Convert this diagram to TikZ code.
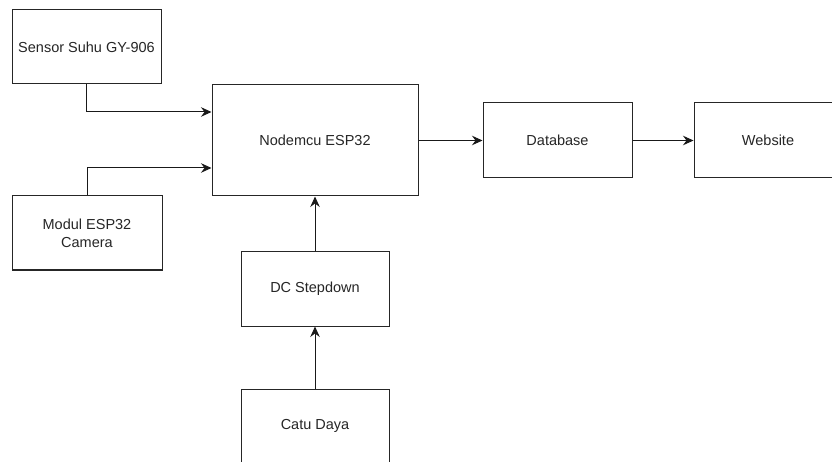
\documentclass[tikz,border=0pt]{standalone}
\usepackage{fontspec}
\setmainfont{Liberation Sans}
\usetikzlibrary{arrows.meta}
\begin{document}
\begin{tikzpicture}[x=1pt,y=-1pt,
  blk/.style={draw=black!85, line width=1pt, fill=white, minimum width=149pt, minimum height=74pt, inner sep=0pt, align=center, font=\fontsize{14.5}{18}\selectfont, text=black!85},
  arr/.style={draw=black!90, line width=1pt, -{Stealth[length=10.5pt,width=9.5pt,inset=3.5pt]}}]
\useasboundingbox (0,0) rectangle (832,462);
\clip (0,0) rectangle (832,462);
\fill[white] (0,0) rectangle (832,462);
\node[blk] (sensor) at (86.5,47) {Sensor Suhu GY-906};
\node[blk, minimum width=206pt, minimum height=111pt] (mcu) at (315,140.5) {Nodemcu ESP32};
\node[blk, minimum width=150pt] (cam) at (87,233) {Modul ESP32\\Camera};
\node[blk, minimum width=148pt] (dc) at (315,289) {DC Stepdown};
\node[blk, minimum width=148pt] (catu) at (315,426) {Catu Daya};
\node[blk, minimum height=75pt] (db) at (557.5,140.5) {Database};
\node[blk, minimum width=148pt, minimum height=75pt] (web) at (768,140.5) {Website};
\draw[arr] (sensor.south) |- ([yshift=28.5pt]mcu.west);
\draw[arr] (cam.north) |- ([yshift=-27.5pt]mcu.west);
\draw[arr] (dc.north) -- (mcu.south);
\draw[arr] (catu.north) -- (dc.south);
\draw[arr] (mcu.east) -- (db.west);
\draw[arr] (db.east) -- (web.west);
\end{tikzpicture}
\end{document}
